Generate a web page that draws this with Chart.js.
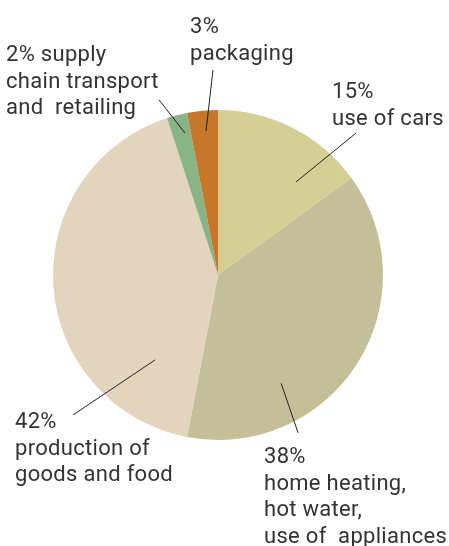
<!DOCTYPE html>
<html>
<head>
<meta charset="utf-8">
<script src="https://cdn.jsdelivr.net/npm/chart.js@4.4.1/dist/chart.umd.min.js"></script>
<style>
  html, body { margin:0; padding:0; background:#fff; }
  #pie { display:block; }
</style>
</head>
<body>
<canvas id="pie" width="449" height="546"></canvas>
<script>
// parcelas da pizza, em sentido horário a partir do topo
const categorias = ['use of cars', 'home heating, hot water, use of appliances', 'production of goods and food', 'supply chain transport and retailing', 'packaging'];
const percentuais = [15, 38, 42, 2, 3];
const cores = ['#d5cf95', '#c4bf99', '#e3d4be', '#88b486', '#c67729'];

// textos dos rótulos (uma linha por item)
const rotulos = [
  ['15%', 'use of cars'],
  ['38%', 'home heating,', 'hot water,', 'use of  appliances'],
  ['42%', 'production of', 'goods and food'],
  ['2% supply', 'chain transport', 'and  retailing'],
  ['3%', 'packaging']
];

// posição dos blocos de texto e das linhas de chamada
// t = fração ao longo da fatia, r = fração do raio; fim = ângulo (graus, a partir do topo) e raio da ponta externa
const layoutRotulos = [
  { x:332, y:98,  t:0.74, r:0.735, fimAng:44.2,  fimR:1.20 },
  { x:264, y:463, t:0.70, r:0.76,  fimAng:153.1, fimR:1.073 },
  { x:15,  y:428, t:0.17, r:0.64,  fimAng:226,   fimR:1.22 },
  { x:6,   y:61,  t:0.68, r:0.884, fimAng:341.4, fimR:1.12 },
  { x:190, y:33,  t:0.56, r:0.876, fimAng:358.6, fimR:1.243 }
];

const ALTURA_LINHA = 26.7;

const pluginRotulos = {
  id: 'rotulos',
  afterDatasetsDraw(chart){
    const ctx = chart.ctx;
    const arcos = chart.getDatasetMeta(0).data;
    ctx.save();
    ctx.strokeStyle = '#222';
    ctx.lineWidth = 1;
    ctx.fillStyle = '#333';
    ctx.font = '22px Roboto';
    ctx.letterSpacing = '0.3px';
    ctx.textBaseline = 'alphabetic';
    ctx.textAlign = 'left';
    arcos.forEach((arc, i) => {
      const L = layoutRotulos[i];
      const p = arc.getProps(['x','y','startAngle','endAngle','outerRadius'], true);
      const a1 = p.startAngle + (p.endAngle - p.startAngle) * L.t;
      const ix = p.x + Math.cos(a1) * p.outerRadius * L.r;
      const iy = p.y + Math.sin(a1) * p.outerRadius * L.r;
      const a2 = (L.fimAng - 90) * Math.PI / 180;
      const ox = p.x + Math.cos(a2) * p.outerRadius * L.fimR;
      const oy = p.y + Math.sin(a2) * p.outerRadius * L.fimR;
      ctx.beginPath();
      ctx.moveTo(ix, iy);
      ctx.lineTo(ox, oy);
      ctx.stroke();
      rotulos[i].forEach((linha, k) => {
        ctx.fillText(linha, L.x, L.y + k * ALTURA_LINHA);
      });
    });
    ctx.restore();
  }
};

new Chart(document.getElementById('pie').getContext('2d'), {
  type: 'pie',
  data: {
    labels: categorias,
    datasets: [{
      data: percentuais,
      backgroundColor: cores,
      borderWidth: 0
    }]
  },
  options: {
    responsive: false,
    animation: false,
    layout: { padding: { top:110, bottom:106, left:53, right:66 } },
    plugins: {
      legend: { display:false },
      tooltip: { enabled:false }
    }
  },
  plugins: [pluginRotulos]
});
</script>
</body>
</html>
